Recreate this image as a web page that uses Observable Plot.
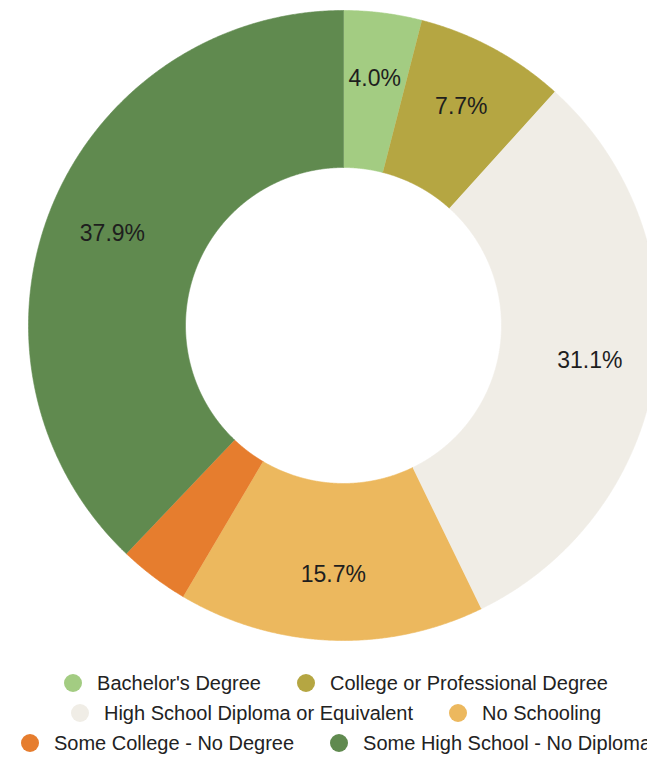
<!DOCTYPE html>
<html><head><meta charset="utf-8">
<script src="https://cdn.jsdelivr.net/npm/d3@7"></script>
<script src="https://cdn.jsdelivr.net/npm/@observablehq/plot@0.6"></script>
<style>
html,body{margin:0;padding:0;background:#fff;overflow:hidden;width:647px;height:757px}
#chart svg{display:block}
.legend{width:686px;display:flex;flex-wrap:wrap;justify-content:center;column-gap:36px;margin-top:8px;margin-left:-7px;font:20px Arial,"Liberation Sans",sans-serif;color:#222}
.item{display:flex;align-items:center;height:30px;white-space:nowrap}
.sw{width:18px;height:18px;border-radius:50%;margin-right:15px;flex:none}
</style></head><body><div id="chart"></div><div class="legend" id="legend"></div><script>
const categories = ["Bachelor's Degree","College or Professional Degree","High School Diploma or Equivalent","No Schooling","Some College - No Degree","Some High School - No Diploma"];
const values = [4.0, 7.7, 31.1, 15.7, 3.6, 37.9];
const colors = ["#a3cc82","#b5a642","#f0ede6","#ecb85e","#e67d2e","#608a4f"];
const labels = ["4.0%","7.7%","31.1%","15.7%","","37.9%"];

const W = 647, H = 660, CX = 343, CY = 325, R = 315;
const inner = 158 / R, labelR = 0.79;

const data = categories.map((c, i) => ({cat: c, value: values[i], label: labels[i]}));
const arcs = d3.pie().sort(null).value(d => d.value)(data);

const pts = [];
for (const a of arcs) {
  const n = Math.max(2, Math.ceil((a.endAngle - a.startAngle) / (Math.PI / 720)));
  for (let i = 0; i <= n; i++) {
    const t = a.startAngle + (a.endAngle - a.startAngle) * i / n;
    pts.push({cat: a.data.cat, x: Math.sin(t), y: -Math.cos(t)});
  }
  for (let i = n; i >= 0; i--) {
    const t = a.startAngle + (a.endAngle - a.startAngle) * i / n;
    pts.push({cat: a.data.cat, x: inner * Math.sin(t), y: -inner * Math.cos(t)});
  }
}
const lab = arcs.filter(a => a.data.label).map(a => {
  const m = (a.startAngle + a.endAngle) / 2;
  return {x: labelR * Math.sin(m), y: -labelR * Math.cos(m), text: a.data.label};
});

const chart = Plot.plot({
  width: W, height: H, margin: 0,
  style: {fontFamily: "Arial, 'Liberation Sans', sans-serif", background: "#fff"},
  x: {domain: [-CX / R, (W - CX) / R], range: [0, W], axis: null},
  y: {domain: [-CY / R, (H - CY) / R], range: [0, H], axis: null},
  color: {domain: categories, range: colors},
  marks: [
    Plot.line(pts, {x: "x", y: "y", z: "cat", fill: "cat", stroke: "cat", strokeWidth: 0.6, curve: "linear", clip: true}),
    Plot.text(lab, {x: "x", y: "y", text: "text", fontSize: 23, fill: "#1e1e1e"})
  ]
});
document.getElementById("chart").appendChild(chart);

const leg = document.getElementById("legend");
categories.forEach((c, i) => {
  const it = document.createElement("div");
  it.className = "item";
  const sw = document.createElement("span");
  sw.className = "sw";
  sw.style.background = colors[i];
  const tx = document.createElement("span");
  tx.textContent = c;
  it.appendChild(sw); it.appendChild(tx);
  leg.appendChild(it);
});
</script></body></html>
